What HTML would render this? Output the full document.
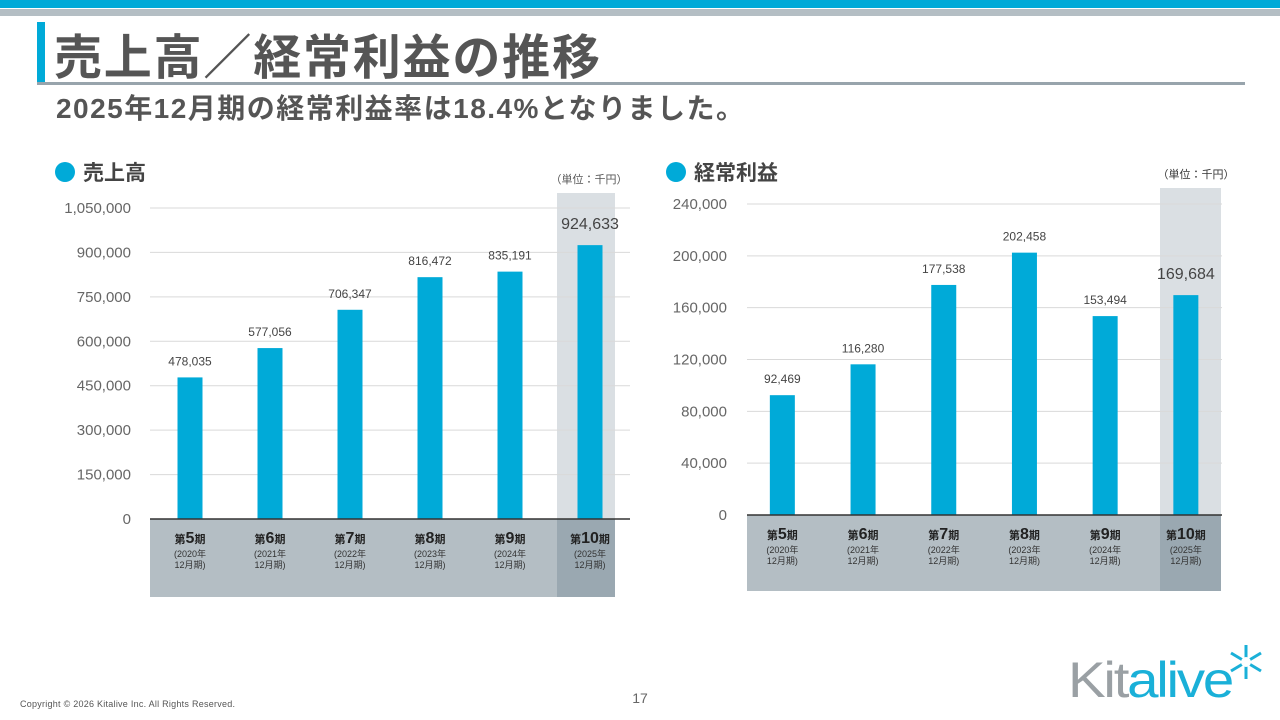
<!DOCTYPE html>
<html><head><meta charset="utf-8"><style>
body{margin:0;width:1280px;height:720px;overflow:hidden;background:#fff;font-family:"Liberation Sans","Noto Sans CJK JP",sans-serif;}
svg{position:absolute;left:0;top:0}
</style></head><body>
<svg id="s" width="1280" height="720" font-family="'Liberation Sans','Noto Sans CJK JP',sans-serif">
<rect x="0" y="0" width="1280" height="8" fill="#00aad8"/>
<rect x="0" y="9" width="1280" height="7" fill="#b4bec4"/>
<rect x="37" y="22" width="8" height="60" fill="#00aad8"/>
<text x="54" y="74" font-size="48" font-weight="bold" fill="#555" textLength="546" lengthAdjust="spacing">売上高／経常利益の推移</text>
<rect x="37" y="82" width="1208" height="3" fill="#98a4ac"/>
<text x="56" y="118" font-size="28" font-weight="bold" fill="#555" textLength="688" lengthAdjust="spacing">2025年12月期の経常利益率は18.4%となりました。</text>
<circle cx="65" cy="172" r="10" fill="#00aad8"/>
<text x="83" y="180" font-size="21" font-weight="bold" fill="#444">売上高</text>
<circle cx="676" cy="172" r="10" fill="#00aad8"/>
<text x="694" y="180" font-size="21" font-weight="bold" fill="#444">経常利益</text>
<text x="589" y="183" font-size="11" fill="#555" text-anchor="middle">（単位：千円）</text>
<text x="1196" y="178" font-size="11" fill="#333" text-anchor="middle">（単位：千円）</text>
<text x="20" y="707" font-size="9" fill="#555" textLength="215" lengthAdjust="spacing">Copyright © 2026 Kitalive Inc. All Rights Reserved.</text>
<text x="640" y="703" font-size="14" fill="#666" text-anchor="middle">17</text>
<g>
<text x="1068" y="697" font-size="50" fill="#9aa0a4" letter-spacing="-2" textLength="164" lengthAdjust="spacingAndGlyphs">Kit<tspan fill="#1ab0d8">alive</tspan></text>
<g stroke="#1ab0d8" stroke-width="3">
<line x1="1246" y1="645" x2="1246" y2="679"/><line x1="1231" y1="653" x2="1261" y2="671"/><line x1="1231" y1="671" x2="1261" y2="653"/>
</g><circle cx="1246" cy="662" r="5" fill="#fff"/>
</g>
<g id="c1"></g><g id="c2"></g>
</svg>
<script>
const periods=["5","6","7","8","9","10"];
const years=["2020","2021","2022","2023","2024","2025"];
const salesValues=[478035,577056,706347,816472,835191,924633];
const salesTicks=[0,150000,300000,450000,600000,750000,900000,1050000];
const profitValues=[92469,116280,177538,202458,153494,169684];
const profitTicks=[0,40000,80000,120000,160000,200000,240000];
const NS="http://www.w3.org/2000/svg";
function mk(p,t,a,txt){const e=document.createElementNS(NS,t);for(const k in a)e.setAttribute(k,a[k]);if(txt!=null)e.textContent=txt;p.appendChild(e);return e;}
function fmt(v){return v.toLocaleString("en-US");}
function chart(g,cfg,vals,ticks){
  const y=v=>cfg.y0-(v/cfg.max)*(cfg.y0-cfg.yTop);
  const x=i=>cfg.x0+cfg.step*(i+0.5);
  const hl=mk(g,"rect",{x:cfg.hlx,y:cfg.hlTop,width:cfg.hlw,height:cfg.bandBot-cfg.hlTop,fill:"#dadfe3"});
  
  
  ticks.forEach(t=>{
    const l=mk(g,"line",{x1:cfg.gx1,x2:cfg.gx2,y1:y(t),y2:y(t),stroke:"#d9d9d9","stroke-width":1});
    
    
    const tx=mk(g,"text",{x:cfg.tickX,y:y(t)+5,"font-size":15,fill:"#666","text-anchor":"end","font-family":"Liberation Sans, sans-serif"},fmt(t));
    
    
  });
  const band=mk(g,"rect",{x:cfg.gx1,y:cfg.y0,width:cfg.hlx-cfg.gx1,height:cfg.bandBot-cfg.y0,fill:"#b4bec4"});
  
  
  const band2=mk(g,"rect",{x:cfg.hlx,y:cfg.y0,width:cfg.hlw,height:cfg.bandBot-cfg.y0,fill:"#9aa8b1"});
  
  
  vals.forEach((v,i)=>{
    const b=mk(g,"rect",{x:x(i)-12.5,y:y(v),width:25,height:cfg.y0-y(v),fill:"#00aad8"});
    
    
    const last=i===vals.length-1;
    const lb=mk(g,"text",{x:x(i),y:y(v)-(last?16:12),"font-size":last?16:12,fill:"#444","text-anchor":"middle"},fmt(v));
    
    
    const c=mk(g,"text",{x:x(i),y:cfg.y0+24,"text-anchor":"middle",fill:"#222","font-weight":"bold","font-size":11});
    
    
    mk(c,"tspan",{},"第");mk(c,"tspan",{"font-size":16},periods[i]);mk(c,"tspan",{},"期");
    const c2=mk(g,"text",{x:x(i),y:cfg.y0+38,"text-anchor":"middle",fill:"#333","font-size":9},"("+years[i]+"年");
    
    
    const c3=mk(g,"text",{x:x(i),y:cfg.y0+49,"text-anchor":"middle",fill:"#333","font-size":9},"12月期)");
    
    
  });
  const ax=mk(g,"line",{x1:cfg.gx1,x2:cfg.gx2,y1:cfg.y0,y2:cfg.y0,stroke:"#333","stroke-width":1.5});
  
  
}
chart(document.getElementById("c1"),{x0:150,step:80,y0:519,yTop:208,max:1050000,gx1:150,gx2:630,tickX:131,hlx:557,hlw:58,hlTop:193,bandBot:597},salesValues,salesTicks);
chart(document.getElementById("c2"),{x0:742,step:80.7,y0:515,yTop:204,max:240000,gx1:747,gx2:1222,tickX:727,hlx:1160,hlw:61,hlTop:188,bandBot:591},profitValues,profitTicks);
</script>
</body></html>
